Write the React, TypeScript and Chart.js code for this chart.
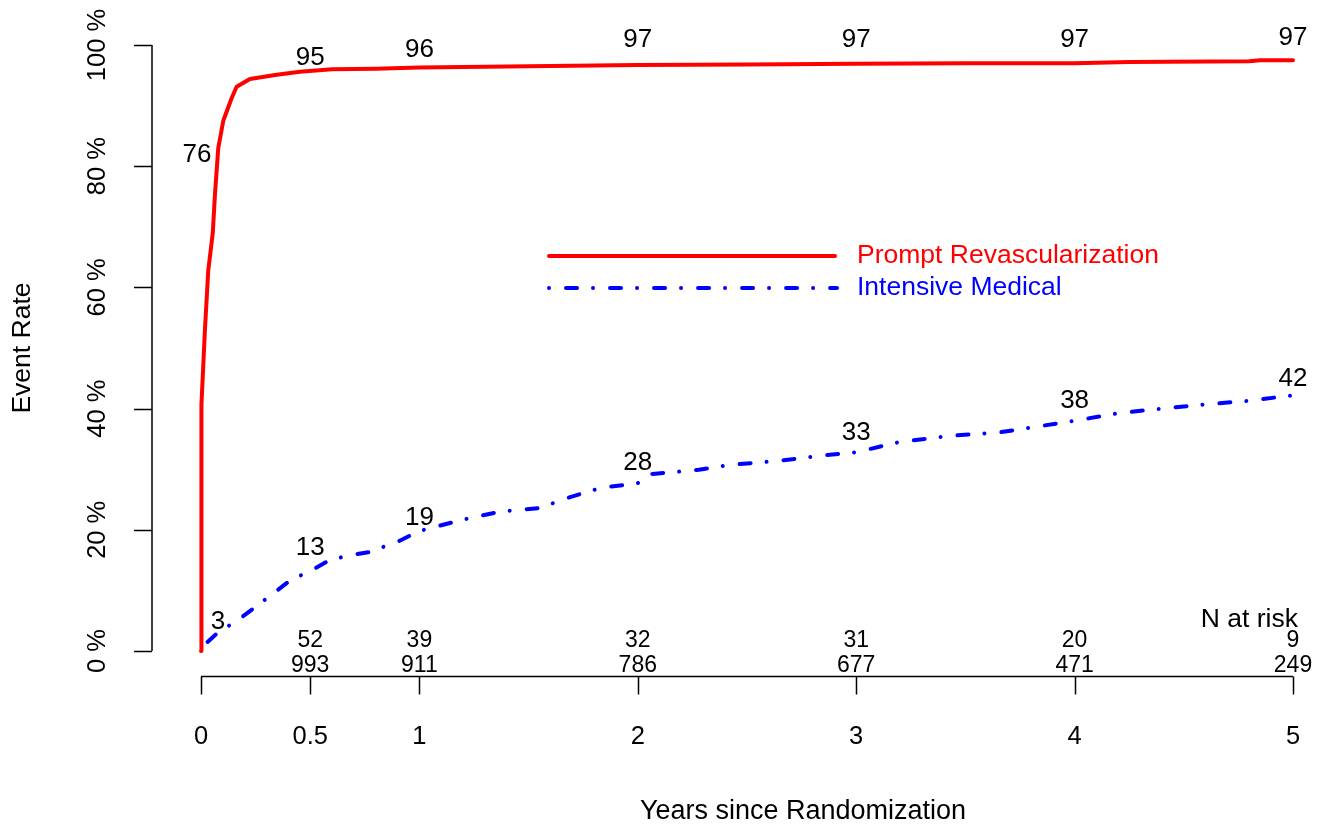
import React, { useEffect, useRef } from "react";
import { Chart, registerables } from "chart.js";

Chart.register(...registerables);

// ---- data ----
const redTimes = [0, 0.001, 0.003, 0.018, 0.033, 0.054, 0.064, 0.079, 0.102, 0.141, 0.163, 0.224, 0.347, 0.453, 0.6, 0.8, 1.0, 1.5, 2.0, 2.5, 3.0, 3.5, 4.0, 4.25, 4.8, 4.85, 5.0];
const redValues = [0, 28, 40.6, 53, 62.7, 69, 75.4, 83, 87.5, 91.3, 93.1, 94.4, 95.1, 95.6, 96.0, 96.1, 96.3, 96.5, 96.7, 96.8, 96.9, 97.0, 97.0, 97.2, 97.3, 97.5, 97.5];

const blueTimes = [0.03, 0.07, 0.18, 0.32, 0.41, 0.5, 0.59, 0.68, 0.77, 0.91, 1.0, 1.19, 1.37, 1.55, 1.69, 1.83, 2.0, 2.06, 2.28, 2.42, 2.65, 2.83, 3.0, 3.2, 3.43, 3.66, 3.84, 4.0, 4.21, 4.57, 4.8, 5.0];
const blueValues = [1.5, 2.8, 5.4, 9.2, 11.7, 13.2, 15, 15.8, 16.3, 18.2, 19.8, 21.6, 23, 23.6, 25.4, 26.9, 27.7, 29.2, 29.9, 30.7, 31.4, 32.2, 32.8, 34.5, 35.5, 36.1, 37.1, 38, 39.3, 40.6, 41.3, 42.2];

const seriesNames = ["Prompt Revascularization", "Intensive Medical"];

const xTicks = [0, 0.5, 1, 2, 3, 4, 5];
const xTickLabels = ["0", "0.5", "1", "2", "3", "4", "5"];
const yTicks = [0, 20, 40, 60, 80, 100];
const yTickLabels = ["0 %", "20 %", "40 %", "60 %", "80 %", "100 %"];

// curve annotations (value text, anchor time, anchor rate)
const redLabelText = ["76", "95", "96", "97", "97", "97", "97"];
const redLabelTimes = [-0.018, 0.5, 1, 2, 3, 4, 5];
const redLabelRates = [81.8, 97.9, 99.2, 100.8, 100.8, 100.8, 101.2];
const blueLabelText = ["3", "13", "19", "28", "33", "38", "42"];
const blueLabelTimes = [0.078, 0.5, 1, 2, 3, 4, 5];
const blueLabelRates = [4.8, 17.0, 21.9, 31.0, 36.0, 41.3, 44.9];

// numbers at risk
const riskTimes = [0.5, 1, 2, 3, 4, 5];
const riskRed = ["52", "39", "32", "31", "20", "9"];
const riskBlue = ["993", "911", "786", "677", "471", "249"];

const FONT = '"Liberation Sans", Arial, Helvetica, sans-serif';

const decorPlugin = {
  id: "decor",
  afterDraw(chart: any) {
    const ctx = chart.ctx as CanvasRenderingContext2D;
    const xs = chart.scales.x;
    const ys = chart.scales.y;
    ctx.save();
    ctx.strokeStyle = "#000";
    ctx.fillStyle = "#000";
    ctx.lineWidth = 1.5;
    ctx.lineCap = "butt";

    // y axis
    const yAxisX = 152;
    ctx.beginPath();
    ctx.moveTo(yAxisX, ys.getPixelForValue(yTicks[0]));
    ctx.lineTo(yAxisX, ys.getPixelForValue(yTicks[yTicks.length - 1]));
    yTicks.forEach((v) => {
      const py = Math.round(ys.getPixelForValue(v)) + 0.5;
      ctx.moveTo(yAxisX, py);
      ctx.lineTo(yAxisX - 18, py);
    });
    ctx.stroke();
    ctx.font = `25.5px ${FONT}`;
    ctx.textAlign = "center";
    ctx.textBaseline = "middle";
    yTicks.forEach((v, i) => {
      ctx.save();
      ctx.translate(98, ys.getPixelForValue(v));
      ctx.rotate(-Math.PI / 2);
      ctx.fillText(yTickLabels[i], 0, 0);
      ctx.restore();
    });
    ctx.font = `26.5px ${FONT}`;
    ctx.save();
    ctx.translate(23, 348);
    ctx.rotate(-Math.PI / 2);
    ctx.fillText("Event Rate", 0, 0);
    ctx.restore();

    // x axis
    const xAxisY = 676.5;
    ctx.beginPath();
    ctx.moveTo(xs.getPixelForValue(xTicks[0]), xAxisY);
    ctx.lineTo(xs.getPixelForValue(xTicks[xTicks.length - 1]), xAxisY);
    xTicks.forEach((v) => {
      const px = Math.round(xs.getPixelForValue(v)) + 0.5;
      ctx.moveTo(px, xAxisY);
      ctx.lineTo(px, xAxisY + 18);
    });
    ctx.stroke();
    ctx.textBaseline = "alphabetic";
    ctx.font = `25.5px ${FONT}`;
    xTicks.forEach((v, i) => {
      ctx.fillText(xTickLabels[i], xs.getPixelForValue(v), 744);
    });
    ctx.font = `27px ${FONT}`;
    ctx.fillText("Years since Randomization", 803, 819);

    // numbers at risk
    ctx.font = `23px ${FONT}`;
    riskTimes.forEach((t, i) => {
      const px = xs.getPixelForValue(t);
      ctx.fillText(riskRed[i], px, 647);
      ctx.fillText(riskBlue[i], px, 672);
    });
    ctx.font = `26.5px ${FONT}`;
    ctx.textAlign = "right";
    ctx.fillText("N at risk", 1298, 627);

    // curve labels
    ctx.font = `26px ${FONT}`;
    ctx.textAlign = "center";
    ctx.textBaseline = "middle";
    redLabelText.forEach((s, i) => {
      ctx.fillText(s, xs.getPixelForValue(redLabelTimes[i]), ys.getPixelForValue(redLabelRates[i]));
    });
    blueLabelText.forEach((s, i) => {
      ctx.fillText(s, xs.getPixelForValue(blueLabelTimes[i]), ys.getPixelForValue(blueLabelRates[i]));
    });

    // legend
    const lx0 = 549, lx1 = 835, ly0 = 256, ly1 = 288;
    ctx.lineWidth = 4;
    ctx.strokeStyle = "#ff0000";
    ctx.lineCap = "round";
    ctx.beginPath();
    ctx.moveTo(lx0, ly0);
    ctx.lineTo(lx1, ly0);
    ctx.stroke();
    ctx.strokeStyle = "#0000ff";
    ctx.setLineDash([0.01, 17, 11, 16]);
    ctx.beginPath();
    ctx.moveTo(lx0, ly1);
    ctx.lineTo(lx1 + 2, ly1);
    ctx.stroke();
    ctx.setLineDash([]);
    ctx.font = `26.5px ${FONT}`;
    ctx.textAlign = "left";
    ctx.fillStyle = "#ff0000";
    ctx.fillText(seriesNames[0], 857, ly0);
    ctx.fillStyle = "#0000ff";
    ctx.fillText(seriesNames[1], 857, ly1);
    ctx.restore();
  },
};

export default function App() {
  const ref = useRef<HTMLCanvasElement | null>(null);
  useEffect(() => {
    if (!ref.current) return;
    const chart = new Chart(ref.current, {
      type: "line",
      data: {
        datasets: [
          {
            label: seriesNames[0],
            data: redTimes.map((t, i) => ({ x: t, y: redValues[i] })),
            borderColor: "#ff0000",
            borderWidth: 4,
            pointRadius: 0,
            tension: 0,
            fill: false,
            borderCapStyle: "round",
            borderJoinStyle: "round",
          },
          {
            label: seriesNames[1],
            data: blueTimes.map((t, i) => ({ x: t, y: blueValues[i] })),
            borderColor: "#0000ff",
            borderWidth: 4,
            pointRadius: 0,
            tension: 0,
            fill: false,
            borderDash: [0.01, 17, 11, 16],
            borderDashOffset: 17,
            borderCapStyle: "round",
            borderJoinStyle: "round",
          },
        ],
      },
      options: {
        responsive: false,
        animation: false,
        clip: false as any,
        layout: { padding: { left: 201, right: 25, top: 45, bottom: 178 } },
        plugins: { legend: { display: false }, tooltip: { enabled: false } },
        scales: {
          x: { type: "linear", min: 0, max: 5, display: false },
          y: { type: "linear", min: 0, max: 100, display: false },
        },
      },
      plugins: [decorPlugin],
    });
    return () => chart.destroy();
  }, []);
  return (
    <div style={{ position: "fixed", left: 0, top: 0, width: 1318, height: 829, background: "#fff" }}>
      <canvas ref={ref} width={1318} height={829} style={{ display: "block" }} />
    </div>
  );
}
